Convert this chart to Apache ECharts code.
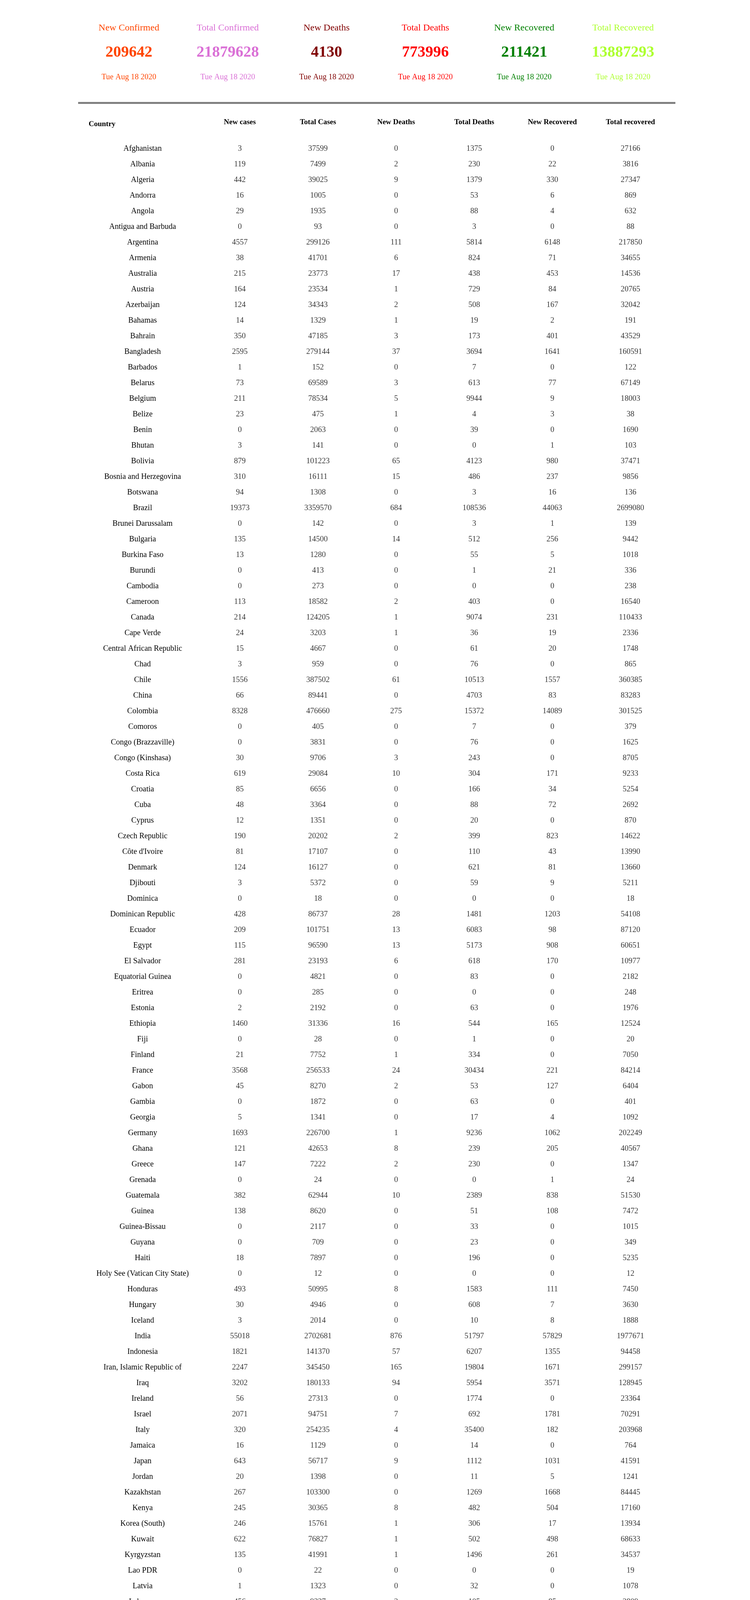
<!DOCTYPE html>
<html>
<head>
<meta charset="utf-8">
<script src="https://cdn.jsdelivr.net/npm/echarts@6/dist/echarts.min.js"></script>
<style>
  html, body { margin: 0; padding: 0; background: #fff; }
  #main { width: 1920px; height: 7818px; }
</style>
</head>
<body>
<div id="main"></div>
<script>
// summary cards
var cardLabels = ['New Confirmed', 'Total Confirmed', 'New Deaths', 'Total Deaths', 'New Recovered', 'Total Recovered'];
var cardValues = [209642, 21879628, 4130, 773996, 211421, 13887293];
var cardDate = 'Tue Aug 18 2020';
var cardColors = ['#ff4500', '#da70d6', '#800000', '#ff0000', '#008000', '#adff2f'];

// table
var headers = ['New cases', 'Total Cases', 'New Deaths', 'Total Deaths', 'New Recovered', 'Total recovered'];
var countries = [
  'Afghanistan','Albania','Algeria','Andorra','Angola','Antigua and Barbuda','Argentina','Armenia','Australia','Austria','Azerbaijan','Bahamas','Bahrain','Bangladesh','Barbados','Belarus','Belgium',
  'Belize','Benin','Bhutan','Bolivia','Bosnia and Herzegovina','Botswana','Brazil','Brunei Darussalam','Bulgaria','Burkina Faso','Burundi','Cambodia','Cameroon','Canada','Cape Verde','Central African Republic','Chad',
  'Chile','China','Colombia','Comoros','Congo (Brazzaville)','Congo (Kinshasa)','Costa Rica','Croatia','Cuba','Cyprus','Czech Republic',"Côte d'Ivoire",'Denmark','Djibouti','Dominica','Dominican Republic','Ecuador',
  'Egypt','El Salvador','Equatorial Guinea','Eritrea','Estonia','Ethiopia','Fiji','Finland','France','Gabon','Gambia','Georgia','Germany','Ghana','Greece','Grenada','Guatemala',
  'Guinea','Guinea-Bissau','Guyana','Haiti','Holy See (Vatican City State)','Honduras','Hungary','Iceland','India','Indonesia','Iran, Islamic Republic of','Iraq','Ireland','Israel','Italy','Jamaica','Japan',
  'Jordan','Kazakhstan','Kenya','Korea (South)','Kuwait','Kyrgyzstan','Lao PDR','Latvia','Lebanon','Lesotho','Liberia','Libya','Liechtenstein','Lithuania','Luxembourg','Macedonia, Republic of','Madagascar',
  'Malawi','Malaysia','Maldives','Mali','Malta','Mauritania','Mauritius','Mexico','Moldova','Monaco','Mongolia','Montenegro','Morocco','Mozambique','Myanmar','Namibia','Nepal',
  'Netherlands','New Zealand','Nicaragua','Niger','Nigeria','Norway','Oman','Pakistan','Palestinian Territory','Panama','Papua New Guinea','Paraguay','Peru','Philippines','Poland','Portugal','Qatar',
  'Republic of Kosovo','Romania','Russian Federation','Rwanda','Saint Kitts and Nevis','Saint Lucia','Saint Vincent and Grenadines','San Marino','Sao Tome and Principe','Saudi Arabia','Senegal','Serbia','Seychelles','Sierra Leone','Singapore','Slovakia','Slovenia',
  'Somalia','South Africa','South Sudan','Spain','Sri Lanka','Sudan','Suriname','Swaziland','Sweden','Switzerland','Syrian Arab Republic (Syria)','Taiwan, Republic of China','Tajikistan','Tanzania, United Republic of','Thailand','Timor-Leste','Togo',
  'Trinidad and Tobago','Tunisia','Turkey','Uganda','Ukraine','United Arab Emirates','United Kingdom','United States of America','Uruguay','Uzbekistan','Venezuela (Bolivarian Republic)','Viet Nam','Western Sahara','Yemen','Zambia','Zimbabwe'
];
var newCases = [
  3,119,442,16,29,0,4557,38,215,164,124,14,350,2595,1,73,211,
  23,0,3,879,310,94,19373,0,135,13,0,0,113,214,24,15,3,
  1556,66,8328,0,0,30,619,85,48,12,190,81,124,3,0,428,209,
  115,281,0,0,2,1460,0,21,3568,45,0,5,1693,121,147,0,382,
  138,0,0,18,0,493,30,3,55018,1821,2247,3202,56,2071,320,16,643,
  20,267,245,246,622,135,0,1,456,43,20,407,3,20,11,101,59,
  53,12,124,0,69,61,0,3571,194,2,0,50,1069,59,1,190,581,
  482,12,0,0,417,55,140,0,310,603,10,344,10143,3221,595,132,288,
  0,733,4839,87,0,0,1,0,0,1372,75,100,0,0,91,5,13,
  1,2541,1,16269,7,96,61,55,751,128,87,1,34,0,0,0,7,
  36,78,1233,60,1517,229,721,35112,17,373,1047,19,0,13,496,47
];
var totalCases = [
  37599,7499,39025,1005,1935,93,299126,41701,23773,23534,34343,1329,47185,279144,152,69589,78534,
  475,2063,141,101223,16111,1308,3359570,142,14500,1280,413,273,18582,124205,3203,4667,959,
  387502,89441,476660,405,3831,9706,29084,6656,3364,1351,20202,17107,16127,5372,18,86737,101751,
  96590,23193,4821,285,2192,31336,28,7752,256533,8270,1872,1341,226700,42653,7222,24,62944,
  8620,2117,709,7897,12,50995,4946,2014,2702681,141370,345450,180133,27313,94751,254235,1129,56717,
  1398,103300,30365,15761,76827,41991,22,1323,9337,946,1277,8579,94,2436,7469,12840,13886,
  5125,9212,5909,2640,1375,6762,346,525733,30377,148,298,4085,43558,2914,376,4344,27241,
  63484,1643,4115,1167,49485,10060,83226,289215,16844,82543,333,10135,535946,164474,57279,54234,115368,
  11275,71194,925558,2540,17,25,58,699,885,299914,12237,29782,127,1956,55838,2907,2429,
  3257,589886,2490,359082,2900,12410,3077,3894,85045,38252,1764,485,8099,509,3378,25,1154,
  588,2185,250542,1560,95007,64541,321064,5438325,1457,35702,34802,983,10,1882,9839,5308
];
var newDeaths = [
  0,2,9,0,0,0,111,6,17,1,2,1,3,37,0,3,5,
  1,0,0,65,15,0,684,0,14,0,0,0,2,1,1,0,0,
  61,0,275,0,0,3,10,0,0,0,2,0,0,0,0,28,13,
  13,6,0,0,0,16,0,1,24,2,0,0,1,8,2,0,10,
  0,0,0,0,0,8,0,0,876,57,165,94,0,7,4,0,9,
  0,0,8,1,1,1,0,0,2,5,0,4,0,0,1,3,1,
  1,0,1,0,0,0,0,266,12,0,0,3,23,0,0,1,3,
  0,0,0,0,2,0,16,0,3,21,0,7,206,16,8,1,0,
  0,38,54,0,0,0,0,0,0,28,3,3,0,0,0,0,0,
  0,143,0,29,0,5,1,3,4,0,4,0,0,0,0,0,0,
  1,2,22,2,22,0,3,445,2,4,7,1,0,5,4,3
];
var totalDeaths = [
  1375,230,1379,53,88,3,5814,824,438,729,508,19,173,3694,7,613,9944,
  4,39,0,4123,486,3,108536,3,512,55,1,0,403,9074,36,61,76,
  10513,4703,15372,7,76,243,304,166,88,20,399,110,621,59,0,1481,6083,
  5173,618,83,0,63,544,1,334,30434,53,63,17,9236,239,230,0,2389,
  51,33,23,196,0,1583,608,10,51797,6207,19804,5954,1774,692,35400,14,1112,
  11,1269,482,306,502,1496,0,32,105,30,82,157,1,81,124,547,171,
  162,125,23,125,9,157,10,57023,908,4,0,80,681,19,6,36,107,
  6172,22,128,69,977,261,588,6175,113,1788,3,145,26281,2681,1885,1779,193,
  390,3029,15707,8,0,0,0,42,15,3436,256,677,0,69,27,31,129,
  93,11982,47,28646,11,803,48,73,5787,1991,68,7,64,21,58,0,27,
  12,56,5996,15,2122,364,41454,170497,40,236,288,25,1,535,264,135
];
var newRecovered = [
  0,22,330,6,4,0,6148,71,453,84,167,2,401,1641,0,77,9,
  3,0,1,980,237,16,44063,1,256,5,21,0,0,231,19,20,0,
  1557,83,14089,0,0,0,171,34,72,0,823,43,81,9,0,1203,98,
  908,170,0,0,0,165,0,0,221,127,0,4,1062,205,0,1,838,
  108,0,0,0,0,111,7,8,57829,1355,1671,3571,0,1781,182,0,1031,
  5,1668,504,17,498,261,0,0,85,0,15,36,0,1,239,0,179,
  64,17,139,0,10,33,0,6542,0,0,2,76,597,33,2,9,160,
  0,0,0,0,337,0,132,0,68,844,0,176,5350,173,229,103,294,
  0,172,3129,13,0,0,0,0,3,1432,51,0,0,0,397,0,1,
  0,5294,0,0,6,35,102,103,0,0,8,0,42,0,0,0,15,
  0,4,1002,23,346,100,4,32513,5,0,875,11,0,32,163,1756
];
var totalRecovered = [
  27166,3816,27347,869,632,88,217850,34655,14536,20765,32042,191,43529,160591,122,67149,18003,
  38,1690,103,37471,9856,136,2699080,139,9442,1018,336,238,16540,110433,2336,1748,865,
  360385,83283,301525,379,1625,8705,9233,5254,2692,870,14622,13990,13660,5211,18,54108,87120,
  60651,10977,2182,248,1976,12524,20,7050,84214,6404,401,1092,202249,40567,1347,24,51530,
  7472,1015,349,5235,12,7450,3630,1888,1977671,94458,299157,128945,23364,70291,203968,764,41591,
  1241,84445,17160,13934,68633,34537,19,1078,2809,271,803,969,87,1705,6739,9174,12603,
  2690,8876,3488,1987,759,6018,334,430840,21220,114,278,2986,29941,1196,331,2379,17495,
  0,1531,2913,1078,36834,8857,77812,269087,9906,55845,110,6210,370717,112759,39359,39800,112088,
  6961,32759,734573,1661,17,25,55,657,821,268385,7728,0,126,1506,52350,1969,2052,
  2374,477671,1175,150376,2676,6385,2138,2371,0,33300,425,450,6897,183,3194,24,858,
  140,1362,231971,1165,49692,57794,1490,1865580,1205,30973,23575,467,8,1045,8575,3848
];

var FONT = '"Liberation Serif", "Times New Roman", serif';
var columns = [newCases, totalCases, newDeaths, totalDeaths, newRecovered, totalRecovered];

var cells = [];
columns.forEach(function (col, c) {
  col.forEach(function (v, r) {
    cells.push([c, r, v]);
  });
});

// top cards as graphic text, spaced evenly
var graphics = [];
cardLabels.forEach(function (name, i) {
  var x = 330 + i * 253;
  graphics.push({ type: 'text', x: x, y: 72, style: { text: name, fill: cardColors[i], font: '24px ' + FONT, textAlign: 'center', textVerticalAlign: 'middle' } });
  graphics.push({ type: 'text', x: x, y: 135, style: { text: String(cardValues[i]), fill: cardColors[i], font: 'bold 40px ' + FONT, textAlign: 'center', textVerticalAlign: 'middle' } });
  graphics.push({ type: 'text', x: x, y: 198, style: { text: cardDate, fill: cardColors[i], font: '20px ' + FONT, textAlign: 'center', textVerticalAlign: 'middle' } });
});
graphics.push({ type: 'rect', shape: { x: 200, y: 261, width: 1529, height: 5 }, style: { fill: '#808080' } });
graphics.push({ type: 'text', x: 227, y: 318, style: { text: 'Country', fill: '#000', font: 'bold 19px ' + FONT, textAlign: 'left', textVerticalAlign: 'middle' } });

var myEcharts = echarts.init(document.getElementById('main'));
var option = {
  animation: false,
  backgroundColor: '#fff',
  graphic: graphics,
  grid: { left: 514, width: 1200, top: 361, height: countries.length * 40 },
  xAxis: {
    type: 'category',
    position: 'top',
    data: headers,
    axisLine: { show: false },
    axisTick: { show: false },
    splitLine: { show: false },
    axisLabel: { color: '#000', fontFamily: FONT, fontSize: 19, fontWeight: 'bold', margin: 38, interval: 0 }
  },
  yAxis: {
    type: 'category',
    inverse: true,
    data: countries,
    axisLine: { show: false },
    axisTick: { show: false },
    splitLine: { show: false },
    axisLabel: { color: '#000', fontFamily: FONT, fontSize: 20, align: 'center', margin: 149, interval: 0 }
  },
  series: [{
    type: 'scatter',
    data: cells,
    symbolSize: 1,
    large: false,
    progressive: 0,
    itemStyle: { color: 'rgba(0,0,0,0)' },
    labelLayout: { hideOverlap: false },
    label: {
      show: true,
      position: 'inside',
      color: '#000',
      fontFamily: FONT,
      fontSize: 20,
      formatter: function (p) { return String(p.value[2]); }
    }
  }]
};
myEcharts.setOption(option);
</script>
</body>
</html>
